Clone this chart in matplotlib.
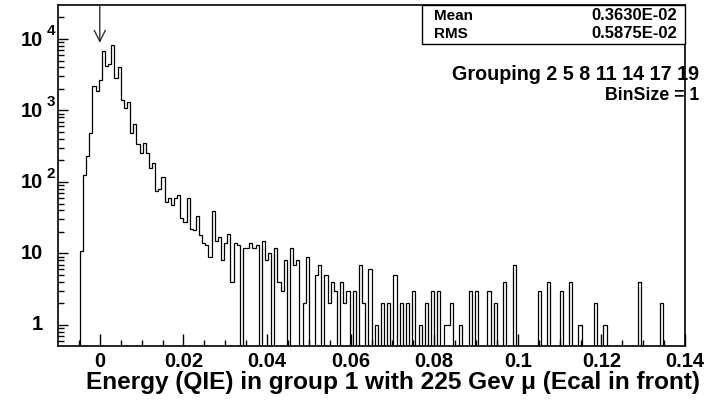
import numpy as np
import matplotlib
matplotlib.use('Agg')
import matplotlib.pyplot as plt
from matplotlib.patches import Rectangle

# histogram definition: 200 bins between -0.01 and 0.14
x_min, x_max, n_bins = -0.01, 0.14, 200
counts = [
    0, 0, 0, 0, 0, 0, 0, 11, 125, 231, 484, 2170, 1845, 2630, 6900, 4170, 4540, 8300, 2870, 4120,
    1410, 1090, 1310, 480, 641, 336, 252, 355, 254, 156, 186, 76, 81, 119, 53, 59, 48, 59, 66, 31,
    28, 59, 22, 21, 33, 18, 14, 13, 9, 39, 15, 17, 8, 14, 19, 4, 14, 13, 0, 12,
    12, 14, 12, 13, 0, 15, 8, 10, 0, 12, 4, 3, 8, 0, 12, 7, 8, 0, 2, 9,
    0, 0, 5, 7, 0, 5, 2, 4, 3, 0, 4, 2, 3, 0, 3, 0, 7, 2, 0, 6,
    0, 1, 0, 2, 0, 2, 0, 5, 0, 2, 0, 2, 0, 3, 0, 1, 0, 2, 0, 3,
    0, 3, 0, 1, 1, 2, 0, 0, 1, 0, 0, 3, 0, 3, 0, 0, 0, 3, 0, 2,
    0, 0, 4, 0, 0, 7, 0, 0, 0, 0, 0, 0, 0, 3, 0, 0, 4, 0, 0, 0,
    3, 0, 0, 4, 0, 0, 1, 0, 0, 0, 0, 2, 0, 0, 1, 0, 0, 0, 0, 0,
    0, 0, 0, 0, 0, 4, 0, 0, 0, 0, 0, 0, 2, 0, 0, 0, 0, 0, 0, 0,
]
stat_names = ['Mean', 'RMS']
stat_values = ['0.3630E-02', '0.5875E-02']
x_ticks = [0, 0.02, 0.04, 0.06, 0.08, 0.1, 0.12, 0.14]
x_tick_labels = ['0', '0.02', '0.04', '0.06', '0.08', '0.1', '0.12', '0.14']
y_decades = [0, 1, 2, 3, 4]

plt.rcParams['font.family'] = ['Liberation Sans', 'DejaVu Sans']
plt.rcParams['font.weight'] = 'bold'

W, H = 712, 404
fig = plt.figure(figsize=(W / 100, H / 100), dpi=100)
ax = fig.add_axes([58 / W, 1 - 346 / H, (685 - 58) / W, (346 - 5) / H])


def px(x, y):
    return x / W, 1 - y / H


edges = np.linspace(x_min, x_max, n_bins + 1)
vals = np.array(counts, dtype=float)
floor = 1e-3
ax.stairs(np.where(vals > 0, vals, floor), edges, baseline=floor,
          color='black', lw=0.9)

ax.set_yscale('log')
ax.set_xlim(x_min, x_max)
ax.set_ylim(0.508, 29900)

for s in ax.spines.values():
    s.set_linewidth(1.2)

ax.set_xticks(x_ticks)
ax.set_xticks(np.arange(-0.005, 0.14, 0.005), minor=True)
ax.tick_params(axis='x', which='major', direction='in', length=8.5, width=1.0,
               labelsize=14.5, pad=4, top=False)
ax.tick_params(axis='x', which='minor', direction='in', length=4.3, width=1.0, top=False)
ax.set_xticklabels(x_tick_labels)

ax.set_yticks([10.0 ** d for d in y_decades])
ax.yaxis.set_minor_locator(matplotlib.ticker.LogLocator(base=10, subs=np.arange(2, 10)))
ax.yaxis.set_minor_formatter(matplotlib.ticker.NullFormatter())
ax.tick_params(axis='y', which='major', direction='in', length=7.5, width=1.0,
               labelleft=False, right=False)
ax.tick_params(axis='y', which='minor', direction='in', length=4.5, width=1.0, right=False)

# decade labels drawn as "10" plus a raised exponent
for d in y_decades:
    yp = 325 - 71.5 * d
    if d == 0:
        fig.text(*px(43, yp), '1', ha='right', va='center', fontsize=14.5)
    elif d == 1:
        fig.text(*px(43, yp), '10', ha='right', va='center', fontsize=14.5)
    else:
        fig.text(*px(43, yp + 1), '10', ha='right', va='center', fontsize=14.5)
        fig.text(*px(47, yp - 8), str(d), ha='left', va='center', fontsize=11)

# marker arrow at zero
ax.annotate('', xy=(0, 8800), xytext=(0, 29900),
            arrowprops=dict(arrowstyle='->,head_width=0.4,head_length=0.8',
                            color='#333333', lw=1.0, shrinkA=0, shrinkB=0))

# stats box
fig.patches.append(Rectangle(px(422, 44), (685 - 422) / W, 39 / H,
                             transform=fig.transFigure, facecolor='white',
                             edgecolor='black', lw=1.0))
for i, (name, val) in enumerate(zip(stat_names, stat_values)):
    yp = 16 + 18 * i
    fig.text(*px(434, yp), name, ha='left', va='center', fontsize=11)
    fig.text(*px(677, yp), val, ha='right', va='center', fontsize=12)

fig.text(*px(699, 74), 'Grouping 2 5 8 11 14 17 19', ha='right', va='center', fontsize=14.2)
fig.text(*px(699, 95), 'BinSize = 1', ha='right', va='center', fontsize=12.8)

fig.text(*px(700, 383), 'Energy (QIE) in group 1 with 225 Gev \u03bc (Ecal in front)',
         ha='right', va='center', fontsize=17.6)

fig.savefig('out.png', dpi=100)
